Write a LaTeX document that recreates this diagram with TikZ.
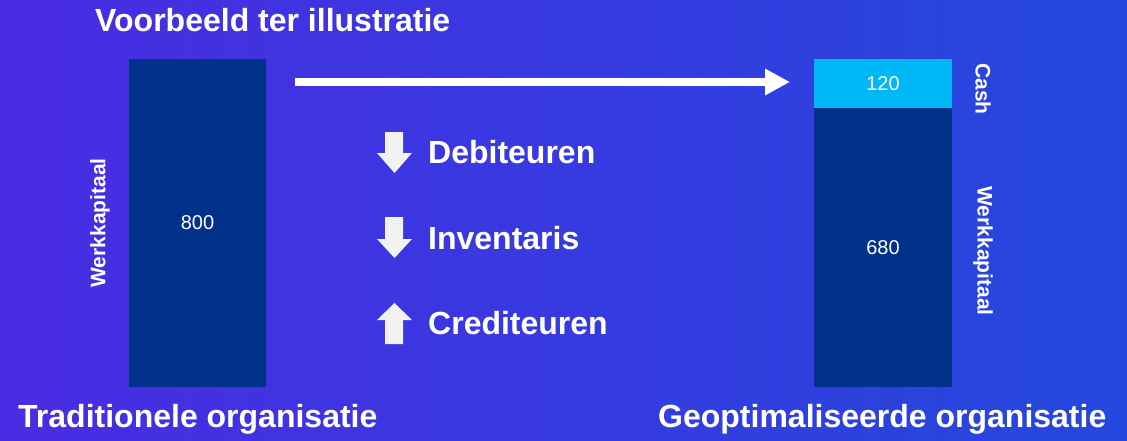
\documentclass[tikz,border=0pt]{standalone}
\usepackage{fontspec}
\setmainfont{Liberation Sans}
\usetikzlibrary{arrows.meta}
\definecolor{bgL}{RGB}{74,44,226}
\definecolor{bgR}{RGB}{36,72,222}
\definecolor{navy}{RGB}{0,50,140}
\definecolor{cyanc}{RGB}{0,184,245}
\definecolor{arrg}{RGB}{242,242,242}
\begin{document}
\begin{tikzpicture}[x=1pt,y=-1pt,
  bar/.style={draw=none,fill=navy,inner sep=0pt,text=white,font=\fontsize{20}{24}\selectfont},
  bigtxt/.style={text=white,font=\bfseries\fontsize{32}{36}\selectfont,inner sep=0pt},
  sidetxt/.style={text=white,font=\bfseries\fontsize{21}{24}\selectfont,inner sep=0pt},
  smallarr/.style={fill=arrg,draw=none}]
\shade[left color=bgL,right color=bgR] (0,0) rectangle (1127,440);
\useasboundingbox (0,0) rectangle (1127,440);
% title
\node[bigtxt,anchor=base west] (title) at (95,31) {Voorbeeld ter illustratie};
% left bar
\node[bar,minimum width=137pt,minimum height=328pt] (lbar) at (197.5,223) {800};
\node[sidetxt,rotate=90] (lwk) at (100,223) {Werkkapitaal};
% right bars
\node[bar,fill=cyanc,minimum width=138pt,minimum height=49pt] (cash) at (883,83.5) {120};
\node[bar,minimum width=138pt,minimum height=279pt] (rbar) at (883,247.5) {680};
\node[sidetxt,rotate=-90] (rcash) at (983,89) {Cash};
\node[sidetxt,rotate=-90] (rwk) at (983,251) {Werkkapitaal};
% bottom labels
\node[bigtxt,anchor=base west] (ltrad) at (18,427) {Traditionele organisatie};
\node[bigtxt,anchor=base west] (lgeo) at (658,427) {Geoptimaliseerde organisatie};
% big arrow
\coordinate (arrS) at (295,82);
\coordinate (arrE) at (790,82);
\draw[white,line width=8pt,-{Triangle[width=25pt,length=25pt]}] (arrS) -- (arrE);
% small arrows
\fill[smallarr] (385,132) -- (403,132) -- (403,153) -- (412,153) -- (394.5,173) -- (377,153) -- (385,153) -- cycle;
\fill[smallarr] (385,217) -- (403,217) -- (403,239) -- (412,239) -- (394.5,258) -- (377,239) -- (385,239) -- cycle;
\fill[smallarr] (385,344) -- (403,344) -- (403,320) -- (412,320) -- (394.5,303) -- (377,320) -- (385,320) -- cycle;
\node[bigtxt,anchor=base west] (deb) at (428,163) {Debiteuren};
\node[bigtxt,anchor=base west] (inv) at (428,249) {Inventaris};
\node[bigtxt,anchor=base west] (cred) at (428,334) {Crediteuren};
\end{tikzpicture}
\end{document}
